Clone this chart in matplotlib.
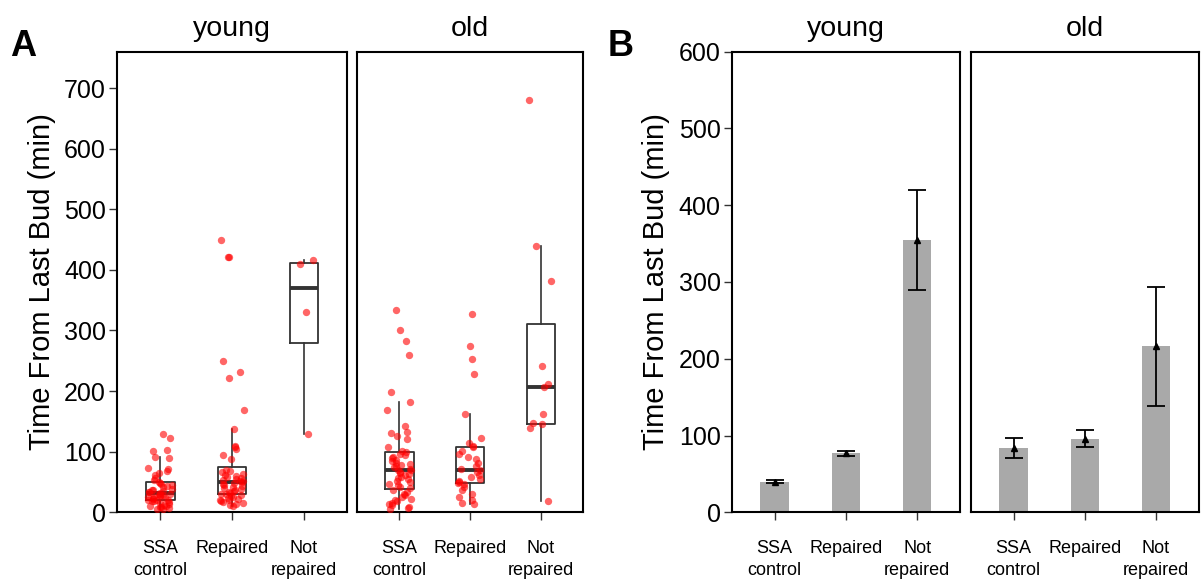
import numpy as np
import matplotlib
matplotlib.use('Agg')
import matplotlib.pyplot as plt

plt.rcParams['font.family'] = ['Liberation Sans', 'DejaVu Sans']

groups = ['SSA\ncontrol', 'Repaired', 'Not\nrepaired']
ages = ['young', 'old']

# time from last bud (min), one list per cell
young_ssa = [129, 122, 102, 101, 92, 89, 73, 71, 68, 65, 61, 57, 53,
             50, 49, 47, 45, 43, 41, 39, 37, 36, 35, 34, 33, 32,
             31, 30, 29, 28, 27, 26, 25, 24, 23, 22, 21, 20, 20,
             19, 18, 17, 15, 14, 12, 11, 10, 9, 8, 7, 6, 5]
young_rep = [449, 422, 422, 249, 231, 222, 168, 138, 109, 108, 105, 95, 88,
             70, 68, 66, 64, 62, 60, 58, 56, 55, 53, 52, 51,
             50, 49, 47, 45, 44, 42, 40, 38, 37, 35, 34, 32, 31, 30,
             28, 27, 25, 24, 22, 21, 20, 18, 17, 15, 14, 12, 11]
young_not = [416, 409, 330, 130]
old_ssa = [333, 301, 283, 260, 198, 182, 168, 143, 132, 131, 126, 121, 108, 101,
           99, 97, 95, 92, 90, 87, 85, 82, 80, 78, 76, 74, 72, 70, 69,
           67, 65, 63, 61, 59, 57, 55, 52, 50, 47, 45, 42, 40,
           37, 34, 31, 28, 25, 22, 20, 18, 16, 14, 12, 9, 7, 5]
old_rep = [328, 274, 253, 228, 162, 122, 115, 110, 108, 101, 96, 92, 88, 82,
           76, 71, 69, 66, 62, 58, 55, 52, 50, 49, 47, 42, 36, 30, 25, 20, 16, 13]
old_not = [680, 439, 382, 241, 211, 207, 163, 147, 145, 139, 19]

# mean +/- sem
young_mean = [40, 77, 355]
young_sem = [1.5, 3.5, 65]
old_mean = [84, 96, 216]
old_sem = [13, 11, 77]

W, H = 1201, 588
fig = plt.figure(figsize=(W / 100, H / 100), dpi=100)

def make_ax(x0, x1, y0=51.7, y1=512.3):
    return fig.add_axes([x0 / W, 1 - y1 / H, (x1 - x0) / W, (y1 - y0) / H])

def style(ax, title, first, ymax, yticks):
    ax.set_xlim(-0.6, 2.6)
    ax.set_ylim(0, ymax)
    ax.set_xticks(range(3))
    ax.set_xticklabels(groups, fontsize=13, linespacing=1.35)
    ax.set_yticks(yticks)
    for s in ax.spines.values():
        s.set_linewidth(1.5)
    ax.tick_params(axis='both', direction='out', length=6, width=1, color='#333333')
    ax.tick_params(axis='x', pad=14)
    ax.tick_params(axis='y', labelsize=18, pad=2)
    ax.set_title(title, fontsize=20.5, pad=11)
    if first:
        ax.set_ylabel('Time From Last Bud (min)', fontsize=21, labelpad=6)
    else:
        ax.tick_params(axis='y', left=False, labelleft=False)

# A: boxplots with jittered points
rng = np.random.default_rng(7)
panels_a = [(make_ax(117, 347), [young_ssa, young_rep, young_not]),
            (make_ax(357, 583), [old_ssa, old_rep, old_not])]
for k, (ax, data) in enumerate(panels_a):
    ax.boxplot(data, positions=range(3), widths=0.4, showfliers=False,
               boxprops=dict(color='#333333', lw=1.3),
               medianprops=dict(color='#333333', lw=2.8),
               whiskerprops=dict(color='#333333', lw=1.2),
               capprops=dict(lw=0))
    for i, vals in enumerate(data):
        xs = i + rng.uniform(-0.17, 0.17, len(vals))
        ax.scatter(xs, vals, s=28, color='red', alpha=0.6, linewidths=0, zorder=3)
    style(ax, ages[k], k == 0, 760, range(0, 701, 100))

# B: mean bars with sem
panels_b = [(make_ax(731.7, 960), young_mean, young_sem),
            (make_ax(971, 1198.5), old_mean, old_sem)]
for k, (ax, m, e) in enumerate(panels_b):
    ax.bar(range(3), m, width=0.4, color='#a9a9a9')
    ax.errorbar(range(3), m, yerr=e, fmt='none', ecolor='black',
                elinewidth=1.3, capsize=6.5, capthick=1.3)
    ax.plot(range(3), m, '^', color='black', ms=4)
    style(ax, ages[k], k == 0, 600, range(0, 601, 100))

fig.text(10 / W, 1 - 47 / H, 'A', fontsize=26, fontweight='bold', va='center')
fig.text(608 / W, 1 - 47 / H, 'B', fontsize=26, fontweight='bold', va='center')

fig.savefig('out.png', dpi=100)
